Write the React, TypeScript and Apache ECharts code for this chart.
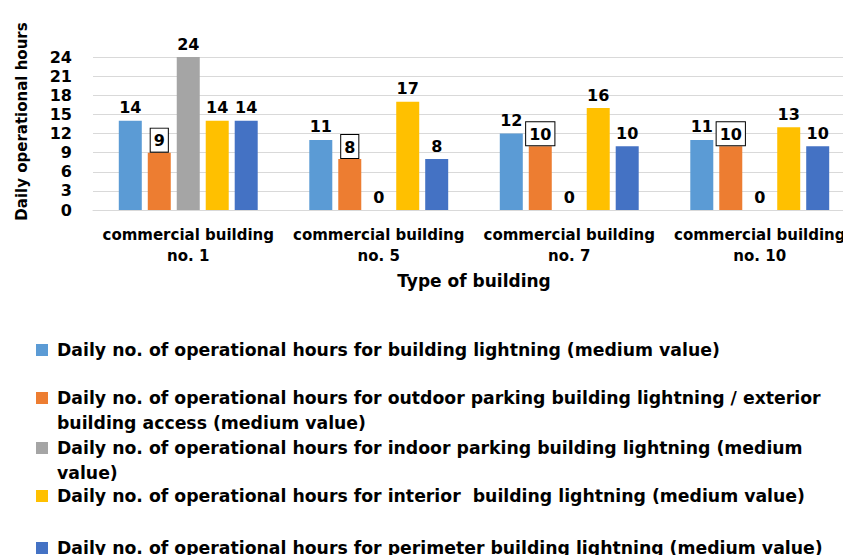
import React, { useEffect, useRef } from "react";
import * as echarts from "echarts";

const categories = [
  "commercial building\nno. 1",
  "commercial building\nno. 5",
  "commercial building\nno. 7",
  "commercial building\nno. 10",
];
const seriesNames = [
  "Daily no. of operational hours for building lightning (medium value)",
  "Daily no. of operational hours for outdoor parking building lightning / exterior building access (medium value)",
  "Daily no. of operational hours for indoor parking building lightning (medium value)",
  "Daily no. of operational hours for interior  building lightning (medium value)",
  "Daily no. of operational hours for perimeter building lightning (medium value)",
];
const legendLabels = [
  "Daily no. of operational hours for building lightning (medium value)",
  "Daily no. of operational hours for outdoor parking building lightning / exterior\nbuilding access (medium value)",
  "Daily no. of operational hours for indoor parking building lightning (medium\nvalue)",
  "Daily no. of operational hours for interior  building lightning (medium value)",
  "Daily no. of operational hours for perimeter building lightning (medium value)",
];
const buildingLighting = [14, 11, 12, 11];
const outdoorParking = [9, 8, 10, 10];
const indoorParking = [24, 0, 0, 0];
const interiorLighting = [14, 17, 16, 13];
const perimeterLighting = [14, 8, 10, 10];
const seriesValues = [buildingLighting, outdoorParking, indoorParking, interiorLighting, perimeterLighting];
const colors = ["#5B9BD5", "#ED7D31", "#A5A5A5", "#FFC000", "#4472C4"];
const yMin = 0;
const yMax = 24;
const yInterval = 3;

const CHART_FONT = "DejaVu Sans";
const LEGEND_FONT = "DejaVu Sans";

export default function App() {
  const ref = useRef<HTMLDivElement>(null);
  useEffect(() => {
    if (!ref.current) return;
    const chart = echarts.init(ref.current, undefined, { renderer: "svg" });
    const legendCenters = [350, 398, 448, 496, 548];
    const twoLine = [false, true, true, false, false];
    const LH = 25;
    const twoLineIcon =
      "path://M0,0h0.01v0.01h-0.01zM0,6.5h12v12h-12zM0,49.99h0.01v0.01h-0.01z";
    const legends = seriesNames.map((name, i) => ({
      data: [name],
      orient: "vertical",
      left: 36,
      top: legendCenters[i] - LH / 2,
      padding: 0,
      itemWidth: 12,
      itemHeight: twoLine[i] ? LH * 2 : 12,
      icon: twoLine[i] ? twoLineIcon : "rect",
      selectedMode: false,
      formatter: () => legendLabels[i],
      textStyle: {
        fontFamily: LEGEND_FONT,
        fontWeight: "bold",
        fontSize: 17.3,
        color: "#000",
        lineHeight: LH,
        padding: [0, 0, 0, 4],
      },
    }));
    chart.setOption({
      animation: false,
      backgroundColor: "#fff",
      color: colors,
      legend: legends,
      grid: {
        left: 93,
        top: 57,
        width: 762,
        height: 153,
        containLabel: false,
        outerBoundsMode: "none",
      },
      xAxis: {
        type: "category",
        data: categories,
        axisTick: { show: false },
        axisLine: { lineStyle: { color: "#D9D9D9", width: 1 } },
        axisLabel: {
          fontFamily: CHART_FONT,
          fontWeight: "bold",
          fontSize: 15,
          color: "#000",
          lineHeight: 21,
          margin: 14,
          interval: 0,
          hideOverlap: false,
        },
        name: "Type of building",
        nameLocation: "middle",
        nameGap: 62,
        nameTextStyle: { fontFamily: CHART_FONT, fontWeight: "bold", fontSize: 17, color: "#000" },
      },
      yAxis: {
        type: "value",
        min: yMin,
        max: yMax,
        interval: yInterval,
        axisLine: { show: false },
        axisTick: { show: false },
        splitLine: { lineStyle: { color: "#D9D9D9", width: 1 } },
        axisLabel: { fontFamily: CHART_FONT, fontWeight: "bold", fontSize: 16, color: "#000", margin: 21 },
        name: "Daily operational hours",
        nameLocation: "middle",
        nameRotate: 90,
        nameGap: 64,
        nameTextStyle: {
          fontFamily: CHART_FONT,
          fontWeight: "bold",
          fontSize: 15,
          color: "#000",
          padding: [0, 0, 0, 24],
        },
      },
      series: seriesNames.map((name, i) => ({
        name,
        type: "bar",
        data: seriesValues[i],
        barWidth: 23,
        barGap: "26%",
        itemStyle: { color: colors[i] },
        label: {
          show: true,
          position: "top",
          fontFamily: CHART_FONT,
          fontWeight: "bold",
          fontSize: 16,
          color: "#000",
          ...(i === 1
            ? {
                distance: 1,
                borderColor: "#000",
                borderWidth: 1,
                backgroundColor: "#fff",
                padding: [4, 3, 3, 3],
              }
            : { distance: 5 }),
        },
      })),
    });
    return () => chart.dispose();
  }, []);
  return (
    <div
      ref={ref}
      style={{ position: "fixed", left: 0, top: 0, width: 843, height: 555 }}
    />
  );
}
